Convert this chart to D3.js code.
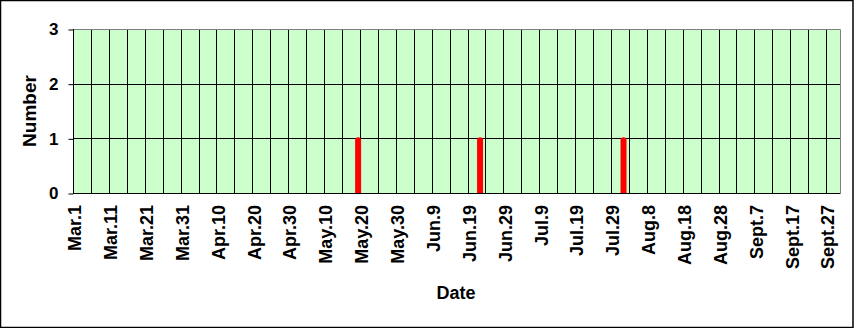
<!DOCTYPE html>
<html>
<head>
<meta charset="utf-8">
<script src="https://cdn.jsdelivr.net/npm/d3@7"></script>
<style>
  body { margin: 0; background: #fff; }
  svg { display: block; font-family: Arial, "Liberation Sans", sans-serif; font-weight: bold; }
</style>
</head>
<body>
<svg id="chart" width="855" height="328"></svg>
<script>
(function () {
    "use strict";

    //Months shown on the category axis and their lengths
    var monthNames = ["Mar", "Apr", "May", "Jun", "Jul", "Aug", "Sept"];
    var monthDays = [31, 30, 31, 30, 31, 31, 30];

    //Days with a record (all other days are zero)
    var recordDates = ["May.19", "Jun.22", "Aug.1"];
    var recordCounts = [1, 1, 1];

    var yTicks = [0, 1, 2, 3];

    //Build the daily category list
    var categories = [];
    monthNames.forEach(function (m, i) {
        for (var d = 1; d <= monthDays[i]; d++) {
            categories.push(m + "." + d);
        }
    });

    var counts = {};
    recordDates.forEach(function (d, i) { counts[d] = recordCounts[i]; });

    var plot = { left: 73, right: 840.5, top: 29, bottom: 193 };

    var svg = d3.select("#chart");

    var x = d3.scaleBand()
        .domain(categories)
        .range([plot.left, plot.right])
        .padding(0);

    var y = d3.scaleLinear()
        .domain([0, 3])
        .range([plot.bottom, plot.top]);

    //Outer chart border
    svg.append("rect")
        .attr("x", 0.5).attr("y", 0.5)
        .attr("width", 852.5).attr("height", 327)
        .attr("fill", "#fff")
        .attr("stroke", "#000")
        .attr("stroke-width", 1.5);

    //Plot background
    svg.append("rect")
        .attr("x", plot.left).attr("y", plot.top)
        .attr("width", plot.right - plot.left)
        .attr("height", plot.bottom - plot.top)
        .attr("fill", "#ccffcc");

    //Vertical gridlines every 5 days
    var gridIdx = d3.range(5, categories.length, 5);
    svg.append("g").selectAll("line")
        .data(gridIdx)
        .enter().append("line")
        .attr("x1", function (i) { return Math.round(x(categories[i])) + 0.5; })
        .attr("x2", function (i) { return Math.round(x(categories[i])) + 0.5; })
        .attr("y1", plot.top)
        .attr("y2", plot.bottom)
        .attr("stroke", "#000")
        .attr("stroke-width", 1);

    //Horizontal gridlines
    svg.append("g").selectAll("line")
        .data([1, 2])
        .enter().append("line")
        .attr("x1", plot.left)
        .attr("x2", plot.right)
        .attr("y1", function (d) { return Math.round(y(d)) + 0.5; })
        .attr("y2", function (d) { return Math.round(y(d)) + 0.5; })
        .attr("stroke", "#000");

    //Gray top and right border of plot area
    svg.append("path")
        .attr("d", "M" + plot.left + "," + (plot.top + 0.5) + "H" + plot.right + "V" + plot.bottom)
        .attr("fill", "none")
        .attr("stroke", "#808080");

    //Bars, clipped so the round cap shows only on top
    svg.append("clipPath").attr("id", "plotClip")
        .append("rect")
        .attr("x", plot.left).attr("y", 0)
        .attr("width", plot.right - plot.left)
        .attr("height", plot.bottom);

    svg.append("g")
        .attr("clip-path", "url(#plotClip)")
        .selectAll("line")
        .data(recordDates)
        .enter().append("line")
        .attr("x1", function (d) { return x(d) + x.bandwidth() / 2; })
        .attr("x2", function (d) { return x(d) + x.bandwidth() / 2; })
        .attr("y1", plot.bottom + 5)
        .attr("y2", function (d) { return y(counts[d]) + 2; })
        .attr("stroke", "#ff0000")
        .attr("stroke-width", 6)
        .attr("stroke-linecap", "round");

    //Axes lines
    svg.append("line")
        .attr("x1", plot.left + 0.5).attr("x2", plot.left + 0.5)
        .attr("y1", plot.top).attr("y2", plot.bottom + 0.5)
        .attr("stroke", "#000");
    svg.append("line")
        .attr("x1", plot.left).attr("x2", plot.right)
        .attr("y1", plot.bottom + 0.5).attr("y2", plot.bottom + 0.5)
        .attr("stroke", "#000");

    //Y axis
    var yAxis = d3.axisLeft(y)
        .tickValues(yTicks)
        .tickSize(5)
        .tickPadding(10)
        .tickFormat(d3.format("d"));

    var gy = svg.append("g")
        .attr("transform", "translate(" + (plot.left + 0.5) + ",0.5)")
        .call(yAxis);
    gy.select(".domain").remove();
    gy.selectAll("line").attr("stroke", "#000");
    gy.selectAll("text")
        .attr("fill", "#000")
        .style("font-size", "17px")
        .style("font-weight", "bold")
        .style("font-family", "Arial, 'Liberation Sans', sans-serif");

    //X axis labels every 10 days
    var labelIdx = d3.range(0, categories.length, 10);
    svg.append("g").selectAll("text")
        .data(labelIdx)
        .enter().append("text")
        .attr("transform", function (i) {
            var cx = x(categories[i]) + x.bandwidth() / 2 + 6.5;
            return "translate(" + cx + ",205) rotate(-90)";
        })
        .attr("text-anchor", "end")
        .style("font-size", "18px")
        .text(function (i) { return categories[i]; });

    //Axis titles
    svg.append("text")
        .attr("x", 456)
        .attr("y", 299)
        .attr("text-anchor", "middle")
        .style("font-size", "18px")
        .text("Date");

    svg.append("text")
        .attr("transform", "translate(36,111) rotate(-90)")
        .attr("text-anchor", "middle")
        .style("font-size", "19px")
        .text("Number");
})();
</script>
</body>
</html>
